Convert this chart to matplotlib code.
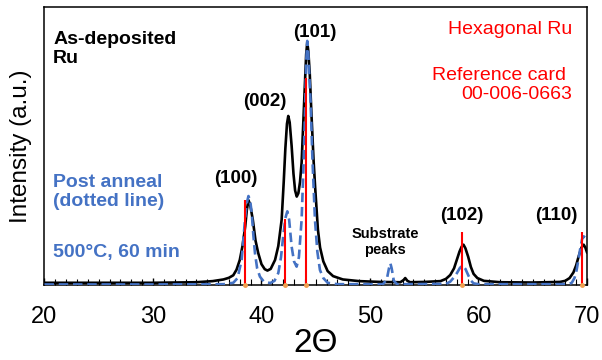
import matplotlib
matplotlib.use("Agg")
from matplotlib import pyplot as plt
from matplotlib.ticker import MultipleLocator

plt.rcParams['font.family'] = ['Liberation Sans', 'DejaVu Sans']

# as-deposited Ru (solid black)
dep_x = [20, 25, 30, 34, 35.5, 36.5, 37.0, 37.4, 37.7, 38.0, 38.25, 38.5, 38.65, 38.8,
         38.95, 39.2, 39.45, 39.7, 40.0, 40.3, 40.55, 40.85, 41.25, 41.55, 41.86, 42.05,
         42.2, 42.35, 42.47, 42.6, 42.78, 42.95, 43.1, 43.25, 43.4, 43.55, 43.7, 43.85,
         44.0, 44.12, 44.22, 44.32, 44.45, 44.6, 44.8, 44.95, 45.2, 45.4, 45.7, 46.1,
         46.6, 47.5, 49, 51, 52.8, 53.1, 53.25, 53.45, 53.7, 55, 56.5, 57.0, 57.4, 57.75,
         58.0, 58.25, 58.45, 58.62, 58.8, 59.05, 59.3, 59.55, 59.9, 60.5, 62, 65, 67.5,
         68.0, 68.4, 68.75, 69.0, 69.25, 69.5, 69.7, 69.85, 70]
dep_y = [0.008, 0.008, 0.008, 0.01, 0.014, 0.02, 0.026, 0.035, 0.055, 0.09, 0.14, 0.21,
         0.27, 0.305, 0.29, 0.235, 0.16, 0.115, 0.075, 0.057, 0.052, 0.058, 0.09, 0.14,
         0.235, 0.37, 0.49, 0.58, 0.608, 0.585, 0.5, 0.4, 0.34, 0.318, 0.33, 0.37, 0.44,
         0.58, 0.72, 0.83, 0.873, 0.84, 0.76, 0.62, 0.45, 0.35, 0.2, 0.135, 0.085, 0.05,
         0.032, 0.02, 0.014, 0.011, 0.01, 0.018, 0.025, 0.015, 0.01, 0.011, 0.014, 0.022,
         0.036, 0.06, 0.09, 0.12, 0.138, 0.145, 0.132, 0.102, 0.065, 0.04, 0.025, 0.015,
         0.01, 0.009, 0.011, 0.015, 0.025, 0.045, 0.07, 0.105, 0.135, 0.145, 0.135, 0.118]

# post anneal 500C 60 min (blue dashed)
ann_x = [20, 25, 30, 36.5, 37.4, 37.8, 38.17, 38.45, 38.62, 38.8, 38.95, 39.1, 39.25,
         39.4, 39.6, 39.86, 40.2, 40.8, 41.2, 41.55, 41.8, 42.0, 42.2, 42.38, 42.55, 42.78,
         43.0, 43.24, 43.45, 43.7, 43.85, 44.0, 44.12, 44.22, 44.32, 44.45, 44.53, 44.7,
         44.93, 45.15, 45.39, 45.7, 46.1, 47, 51.2, 51.55, 51.75, 51.88, 52.0, 52.2, 52.5,
         57.0, 57.4, 57.75, 58.0, 58.3, 58.55, 58.8, 59.06, 59.3, 59.55, 60, 68.3, 68.6,
         68.85, 69.05, 69.25, 69.4, 69.55, 69.7, 69.85, 70]
ann_y = [0.002, 0.002, 0.002, 0.003, 0.008, 0.025, 0.09, 0.22, 0.29, 0.32, 0.305, 0.26,
         0.18, 0.115, 0.06, 0.03, 0.013, 0.007, 0.015, 0.043, 0.1, 0.174, 0.24, 0.265,
         0.235, 0.138, 0.085, 0.066, 0.1, 0.235, 0.4, 0.6, 0.8, 0.878, 0.83, 0.72, 0.657,
         0.45, 0.235, 0.12, 0.054, 0.025, 0.008, 0.003, 0.003, 0.02, 0.06, 0.078, 0.06,
         0.015, 0.003, 0.004, 0.012, 0.028, 0.042, 0.062, 0.07, 0.058, 0.035, 0.016,
         0.006, 0.003, 0.003, 0.008, 0.025, 0.054, 0.1, 0.135, 0.165, 0.175, 0.17, 0.16]

# reference card 00-006-0663 sticks
ref_pos = [38.45, 42.2, 44.1, 58.45, 69.55]
ref_int = [0.306, 0.237, 0.745, 0.19, 0.19]

# peak labels
hkl = ['(100)', '(002)', '(101)', '(102)', '(110)']
hkl_x = [37.65, 40.32, 44.93, 58.48, 67.14]
hkl_y = [0.353, 0.63, 0.878, 0.22, 0.22]

blue = '#4472C4'

fig = plt.figure(figsize=(6.02, 3.6), dpi=100)
ax = fig.add_axes([0.0739, 0.2083, 0.9011, 0.7723])

ax.plot(dep_x, dep_y, color='black', lw=1.9, zorder=2)
ax.plot(ann_x, ann_y, color=blue, lw=1.9, ls=(0, (3.6, 1.8)), zorder=3)
ax.vlines(ref_pos, 0, ref_int, color='red', lw=1.5, zorder=4)
ax.plot(ref_pos, [0] * len(ref_pos), 'o', color='#F0A050', ms=2.5, zorder=5, clip_on=False)

for lab, x, y in zip(hkl, hkl_x, hkl_y):
    ax.text(x, y, lab, ha='center', va='bottom', fontsize=13.5, fontweight='bold')
ax.text(51.38, 0.10, 'Substrate\npeaks', ha='center', va='bottom', fontsize=10.5,
        fontweight='bold', linespacing=1.2)

ax.text(0.016, 0.915, 'As-deposited\nRu', transform=ax.transAxes, ha='left', va='top',
        fontsize=14, fontweight='bold', linespacing=1.15)
ax.text(0.016, 0.40, 'Post anneal\n(dotted line)', transform=ax.transAxes, ha='left',
        va='top', fontsize=14, fontweight='bold', color=blue, linespacing=1.15)
ax.text(0.016, 0.148, '500\u00b0C, 60 min', transform=ax.transAxes, ha='left',
        va='top', fontsize=14, fontweight='bold', color=blue)
ax.text(0.972, 0.95, 'Hexagonal Ru', transform=ax.transAxes, ha='right', va='top',
        fontsize=14, color='red')
ax.text(0.972, 0.785, 'Reference card \n00-006-0663', transform=ax.transAxes, ha='right',
        va='top', fontsize=14, color='red', linespacing=1.15)

ax.set_xlim(20, 70)
ax.set_ylim(0, 1)
ax.set_yticks([])
ax.xaxis.set_major_locator(MultipleLocator(10))
ax.xaxis.set_minor_locator(MultipleLocator(1))
ax.tick_params(axis='x', which='major', direction='in', length=5, width=1, labelsize=17, pad=15)
ax.tick_params(axis='x', which='minor', direction='in', length=4, width=0.8)
ax.set_xlabel('2\u0398', fontsize=24, labelpad=0)
ax.set_ylabel('Intensity (a.u.)', fontsize=17.5, labelpad=9)
for s in ax.spines.values():
    s.set_linewidth(1.1)

fig.savefig('out.png', dpi=100)
